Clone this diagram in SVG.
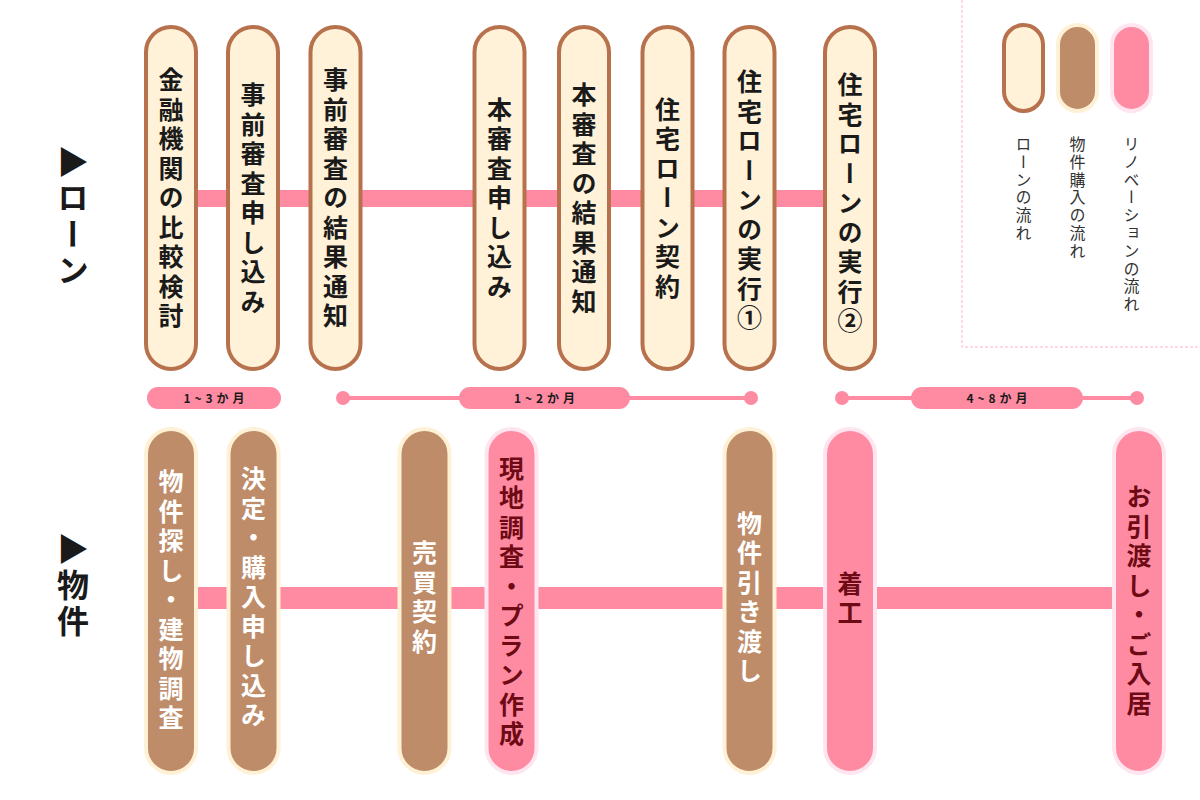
<svg xmlns="http://www.w3.org/2000/svg" width="1200" height="800" viewBox="0 0 1200 800">
<defs>
<style>
.loan{fill:#FFF2D8;stroke:#B7724D;stroke-width:4}
.buy{fill:#BE8C69;stroke:#FFF1D6;stroke-width:4}
.reno{fill:#FF8BA3;stroke:#FFE5EF;stroke-width:4}
.band{fill:#FF8BA3}
.vt{font-family:"Noto Sans CJK JP","Noto Sans",sans-serif;font-weight:700;font-size:25px;letter-spacing:4.5px;writing-mode:vertical-rl;text-anchor:middle}
.tl{fill:#1A1A1A}
.tw{fill:#FFFFFF}
.tr{fill:#6E0A14}
.side{font-family:"Noto Sans CJK JP","Noto Sans",sans-serif;font-weight:700;font-size:32px;letter-spacing:4px;writing-mode:vertical-rl;fill:#1A1A1A}
.leg{font-family:"Noto Sans CJK JP","Noto Sans",sans-serif;font-weight:400;font-size:16px;letter-spacing:1.8px;writing-mode:vertical-rl;fill:#333333}
.per{font-family:"Noto Sans CJK JP","Noto Sans",sans-serif;font-weight:700;font-size:12px;letter-spacing:4px;text-anchor:middle;fill:#1A1A1A}
.pline{stroke:#FF8BA3;stroke-width:4}
</style>
</defs>

<g id="legend">
<path d="M962,0 V347 H1200" fill="none" stroke="#FFB3C6" stroke-width="1" stroke-dasharray="3,2"/>
<rect class="loan" x="1004" y="25" width="39" height="86" rx="19.5"/>
<rect class="buy" x="1058" y="25" width="39" height="86" rx="19.5"/>
<rect class="reno" x="1112" y="25" width="39" height="86" rx="19.5"/>
<text class="leg" x="1023.5" y="136">ローンの流れ</text>
<text class="leg" x="1077.5" y="136">物件購入の流れ</text>
<text class="leg" x="1131.5" y="136">リノベーションの流れ</text>
</g>

<g id="row-labels">
<text class="side" x="73" y="146">▶ローン</text>
<text class="side" x="73" y="533">▶物件</text>
</g>

<g id="connectors">
<rect class="band" x="196" y="190" width="628" height="17"/>
<rect class="band" x="196" y="587" width="918" height="22"/>
</g>

<g id="periods">
<g id="period-1">
<rect class="band" x="147" y="387" width="134" height="22" rx="11"/>
<text class="per" x="216" y="402.5">1~3か月</text>
</g>
<g id="period-2">
<line class="pline" x1="343" y1="398" x2="751" y2="398"/>
<circle class="band" cx="343" cy="398" r="7"/>
<circle class="band" cx="751" cy="398" r="7"/>
<rect class="band" x="459" y="387" width="171" height="22" rx="11"/>
<text class="per" x="546.5" y="402.5">1~2か月</text>
</g>
<g id="period-3">
<line class="pline" x1="842" y1="398" x2="1137" y2="398"/>
<circle class="band" cx="842" cy="398" r="7"/>
<circle class="band" cx="1137" cy="398" r="7"/>
<rect class="band" x="911" y="387" width="172" height="22" rx="11"/>
<text class="per" x="999" y="402.5">4~8か月</text>
</g>
</g>

<g id="loan-nodes">
<g id="loan-1"><rect class="loan" x="146" y="27" width="50" height="342" rx="25"/><text class="vt tl" x="171" y="200">金融機関の比較検討</text></g>
<g id="loan-2"><rect class="loan" x="228" y="27" width="50" height="342" rx="25"/><text class="vt tl" x="253" y="200">事前審査申し込み</text></g>
<g id="loan-3"><rect class="loan" x="310.5" y="27" width="50" height="342" rx="25"/><text class="vt tl" x="335.5" y="200">事前審査の結果通知</text></g>
<g id="loan-4"><rect class="loan" x="474.5" y="27" width="50" height="342" rx="25"/><text class="vt tl" x="499.5" y="200">本審査申し込み</text></g>
<g id="loan-5"><rect class="loan" x="559" y="27" width="50" height="342" rx="25"/><text class="vt tl" x="584" y="200">本審査の結果通知</text></g>
<g id="loan-6"><rect class="loan" x="642.5" y="27" width="50" height="342" rx="25"/><text class="vt tl" x="667.5" y="200">住宅ローン契約</text></g>
<g id="loan-7"><rect class="loan" x="724.5" y="27" width="50" height="342" rx="25"/><text class="vt tl" x="749.5" y="202">住宅ローンの実行①</text></g>
<g id="loan-8"><rect class="loan" x="825" y="27" width="50" height="342" rx="25"/><text class="vt tl" x="850" y="205">住宅ローンの実行②</text></g>
</g>

<g id="property-nodes">
<g id="prop-1"><rect class="buy" x="146" y="429" width="50" height="344" rx="25"/><text class="vt tw" x="171" y="602">物件探し・建物調査</text></g>
<g id="prop-2"><rect class="buy" x="228.5" y="429" width="50" height="344" rx="25"/><text class="vt tw" x="253.5" y="599">決定・購入申し込み</text></g>
<g id="prop-3"><rect class="buy" x="399.5" y="429" width="50" height="344" rx="25"/><text class="vt tw" x="424.5" y="599">売買契約</text></g>
<g id="prop-4"><rect class="reno" x="486.5" y="429" width="50" height="344" rx="25"/><text class="vt tr" x="511.5" y="603">現地調査・プラン作成</text></g>
<g id="prop-5"><rect class="buy" x="724.5" y="429" width="50" height="344" rx="25"/><text class="vt tw" x="749.5" y="599">物件引き渡し</text></g>
<g id="prop-6"><rect class="reno" x="825" y="429" width="50" height="344" rx="25"/><text class="vt tr" x="850" y="600">着工</text></g>
<g id="prop-7"><rect class="reno" x="1114" y="429" width="50" height="344" rx="25"/><text class="vt tr" x="1139" y="602">お引渡し・ご入居</text></g>
</g>
</svg>
